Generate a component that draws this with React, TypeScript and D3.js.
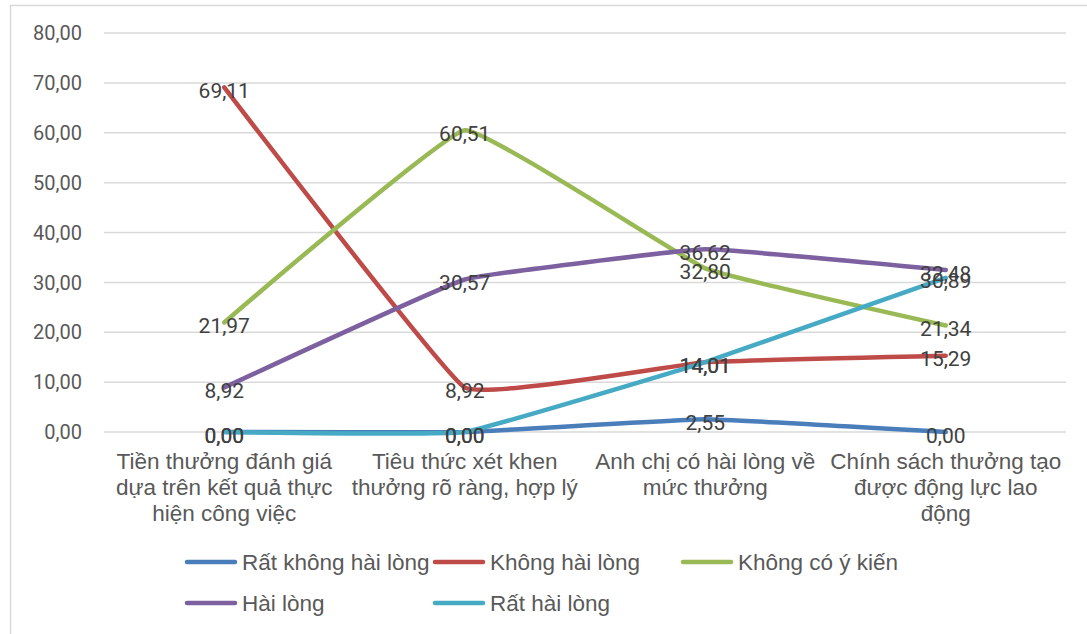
import * as React from 'react';
import { useEffect, useRef } from 'react';
import * as d3 from 'd3';

// categories (line breaks as in the original chart)
const categories = [
    'Tiền thưởng đánh giá\ndựa trên kết quả thực\nhiện công việc',
    'Tiêu thức xét khen\nthưởng rõ ràng, hợp lý',
    'Anh chị có hài lòng về\nmức thưởng',
    'Chính sách thưởng tạo\nđược động lực lao\nđộng',
];

const seriesNames = ['Rất không hài lòng', 'Không hài lòng', 'Không có ý kiến', 'Hài lòng', 'Rất hài lòng'];
const seriesColors = ['#4A7EBB', '#BE4B48', '#98B954', '#7D60A0', '#46AAC5'];

const ratKhongHaiLong = [0, 0, 2.55, 0];
const khongHaiLong = [69.11, 8.92, 14.01, 15.29];
const khongCoYKien = [21.97, 60.51, 32.8, 21.34];
const haiLong = [8.92, 30.57, 36.62, 32.48];
const ratHaiLong = [0, 0, 14.01, 30.89];

const yTicks = [0, 10, 20, 30, 40, 50, 60, 70, 80];

const series = [ratKhongHaiLong, khongHaiLong, khongCoYKien, haiLong, ratHaiLong];

export default function App() {
    const svgRef = useRef<SVGSVGElement>(null);

    useEffect(() => {
        if (!svgRef.current) return;
        const width = 1087;
        const height = 634;
        const plot = { left: 104, right: 1066, top: 33, bottom: 432 };

        const svg = d3.select(svgRef.current);
        svg.selectAll('*').remove();

        const fmt = d3.formatLocale({ decimal: ',', thousands: '.', grouping: [3], currency: ['', ''] }).format('.2f');

        const x = d3.scaleBand<number>()
            .domain(categories.map((_, i) => i))
            .range([plot.left, plot.right])
            .padding(0);
        const cx = (i: number) => (x(i) as number) + x.bandwidth() / 2;

        const y = d3.scaleLinear().domain([0, 80]).range([plot.bottom, plot.top]);

        // chart frame (only top/left visible in the crop)
        svg.append('rect')
            .attr('x', 10.5).attr('y', 5.5)
            .attr('width', width + 20).attr('height', height + 20)
            .attr('fill', '#fff')
            .attr('stroke', '#d9d9d9')
            .attr('stroke-width', 1.5);

        // grid lines
        svg.selectAll('.grid')
            .data(yTicks)
            .enter().append('line')
            .attr('x1', plot.left).attr('x2', plot.right)
            .attr('y1', d => y(d)).attr('y2', d => y(d))
            .attr('stroke', '#d9d9d9')
            .attr('stroke-width', 1.5);

        // y axis labels
        svg.selectAll('.ylab')
            .data(yTicks)
            .enter().append('text')
            .attr('x', 82)
            .attr('y', d => y(d))
            .attr('dy', '0.36em')
            .attr('text-anchor', 'end')
            .attr('font-family', 'Roboto, sans-serif')
            .attr('font-size', 20)
            .attr('fill', '#595959')
            .text(d => fmt(d));

        // category labels
        categories.forEach((c, i) => {
            const t = svg.append('text')
                .attr('text-anchor', 'middle')
                .attr('font-family', '"Liberation Sans", Arial, sans-serif')
                .attr('font-size', 22.5)
                .attr('fill', '#595959');
            c.split('\n').forEach((line, j) => {
                t.append('tspan')
                    .attr('x', cx(i))
                    .attr('y', 469 + j * 26)
                    .text(line);
            });
        });

        // Excel-like gentle smoothing
        const line = d3.line<number>()
            .x((_, i) => cx(i))
            .y(d => y(d))
            .curve(d3.curveCardinal.tension(0.75));

        series.forEach((s, k) => {
            svg.append('path')
                .datum(s)
                .attr('fill', 'none')
                .attr('stroke', seriesColors[k])
                .attr('stroke-width', 4.5)
                .attr('stroke-linecap', 'round')
                .attr('stroke-linejoin', 'round')
                .attr('d', line);
        });

        // data labels
        series.forEach((s) => {
            svg.selectAll(null)
                .data(s)
                .enter().append('text')
                .attr('x', (_, i) => cx(i))
                .attr('y', d => y(d) + 3)
                .attr('dy', '0.36em')
                .attr('text-anchor', 'middle')
                .attr('font-family', 'Roboto, sans-serif')
                .attr('font-size', 21)
                .attr('fill', '#404040')
                .text(d => fmt(d));
        });

        // legend
        const legend = svg.append('g');
        seriesNames.forEach((name, k) => {
            const col = k % 3;
            const row = Math.floor(k / 3);
            const lx = 187 + col * 248;
            const ly = 562 + row * 41;
            legend.append('line')
                .attr('x1', lx).attr('x2', lx + 48)
                .attr('y1', ly).attr('y2', ly)
                .attr('stroke', seriesColors[k])
                .attr('stroke-width', 4.5)
                .attr('stroke-linecap', 'round');
            legend.append('text')
                .attr('x', lx + 55)
                .attr('y', ly)
                .attr('dy', '0.36em')
                .attr('font-family', '"Liberation Sans", Arial, sans-serif')
                .attr('font-size', 22.5)
                .attr('fill', '#595959')
                .text(name);
        });
    }, []);

    return (
        <div style={{ position: 'absolute', left: 0, top: 0, width: 1087, height: 634, overflow: 'hidden' }}>
            <svg ref={svgRef} width={1087} height={634}></svg>
        </div>
    );
}
